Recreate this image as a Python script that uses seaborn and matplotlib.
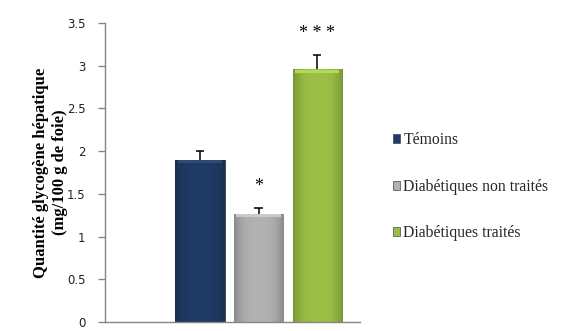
import matplotlib
matplotlib.use("Agg")
import matplotlib.pyplot as plt
import seaborn as sns
import pandas as pd
import numpy as np
from matplotlib.patches import Patch
from matplotlib.colors import to_rgb

groups = ["Témoins", "Diabétiques non traités", "Diabétiques traités"]
values = [1.90, 1.27, 2.96]
errors = [0.10, 0.07, 0.17]
stars = ["", "*", "* * *"]
colors = ["#1F3C66", "#B2B2B2", "#9BC045"]
yticks = [0, 0.5, 1, 1.5, 2, 2.5, 3, 3.5]
ytick_labels = ["0", "0.5", "1", "1.5", "2", "2.5", "3", "3.5"]

sns.set_theme(style="white")
plt.rcParams["font.family"] = ["DejaVu Sans"]

df = pd.DataFrame({"groupe": groups, "valeur": values})

fig = plt.figure(figsize=(5.63, 3.31), dpi=100)
ax = fig.add_axes([105/563, 9/331, 255/563, 299/331])

sns.barplot(data=df, x="groupe", y="valeur", hue="groupe", palette=colors,
            dodge=False, width=0.84, legend=False, ax=ax,
            edgecolor="#3a3a3a", linewidth=0.6, errorbar=None)

# subtle bevel shading clipped to each bar
for patch, c in zip(ax.patches, colors):
    base = np.array(to_rgb(c))
    x0, y0 = patch.get_x(), patch.get_y()
    w, h = patch.get_width(), patch.get_height()
    t = np.linspace(0, 1, 64)
    prof = 1 - 0.22 * (np.abs(t - 0.5) * 2) ** 3
    img = np.clip(base[None, None, :] * prof[None, :, None], 0, 1)
    img = np.repeat(img, 2, axis=0)
    im = ax.imshow(img, extent=[x0, x0 + w, y0, y0 + h], aspect="auto",
                   zorder=patch.get_zorder() + 0.1, interpolation="bilinear")
    im.set_clip_path(patch)
    top = np.clip(base * 1.08 + 0.04, 0, 1)
    ax.fill_between([x0 + 0.05 * w, x0 + 0.95 * w], y0 + h - 0.04, y0 + h - 0.005,
                    color=top, zorder=patch.get_zorder() + 0.2, linewidth=0)

xs = list(range(len(groups)))
cap = 0.07
for x, v, e in zip(xs, values, errors):
    ax.vlines(x, v, v + e, color="black", linewidth=1.1, zorder=5)
    ax.hlines(v + e, x - cap, x + cap, color="black", linewidth=1.1, zorder=5)

for x, v, e, s in zip(xs, values, errors, stars):
    if s:
        ax.text(x, v + e + 0.25, s, ha="center", va="center",
                fontsize=13, family="Liberation Serif", color="black")

ax.set_xlim(-1.62, 2.73)
ax.set_ylim(0, 3.5)
ax.set_yticks(yticks)
ax.set_yticklabels(ytick_labels, fontsize=8.5, color="#222222")
ax.set_xticks([])
ax.set_xlabel("")
ax.set_ylabel("Quantité glycogène hépatique\n(mg/100 g de foie)",
              family="Liberation Serif", fontweight="bold", fontsize=12,
              color="black", linespacing=1.25)
ax.yaxis.set_label_coords(-37/255, 0.5)

for side in ["top", "right"]:
    ax.spines[side].set_visible(False)
for side in ["left", "bottom"]:
    ax.spines[side].set_color("#868686")
    ax.spines[side].set_linewidth(1.0)
ax.tick_params(axis="y", left=True, length=5, width=1, color="#868686", pad=9)

handles = [Patch(facecolor=c, edgecolor="#444444", linewidth=0.5) for c in colors]
fig.legend(handles, groups, loc="upper left", bbox_to_anchor=(379/563, 1 - 118/331),
           frameon=False, handlelength=0.45, handleheight=0.5, handletextpad=0.2,
           labelspacing=1.95, prop={"family": "Liberation Serif", "size": 11.3})

fig.savefig("out.png", dpi=100)
